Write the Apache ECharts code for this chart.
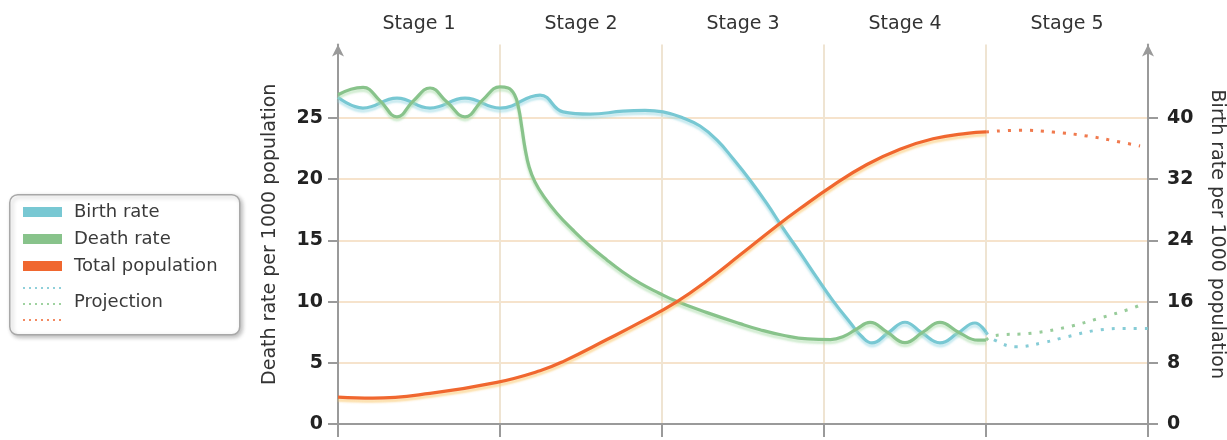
<!DOCTYPE html>
<html><head><meta charset="utf-8">
<script src="https://cdn.jsdelivr.net/npm/echarts@6/dist/echarts.min.js"></script>
<style>html,body{margin:0;padding:0;background:#fff}#c{width:1227px;height:440px}</style>
</head><body><div id="c"></div>
<script>
// ---- data (x in stage units: 0..5, stage k spans k-1..k) ----
const stages = ['Stage 1', 'Stage 2', 'Stage 3', 'Stage 4', 'Stage 5'];
const deathTicks = [0, 5, 10, 15, 20, 25];
const birthTicks = [0, 8, 16, 24, 32, 40];

// birth rate per 1000 (right axis)
const birthRate = [
  [0, 42.7], [0.154, 41.3], [0.364, 42.6], [0.568, 41.3], [0.784, 42.6], [1.0, 41.3],
  [1.247, 43.0], [1.389, 40.8], [1.556, 40.5], [1.759, 40.9], [1.895, 41.0], [2.006, 40.8],
  [2.13, 40.0], [2.235, 38.95], [2.34, 37.1], [2.438, 34.7], [2.543, 31.9], [2.648, 28.8],
  [2.747, 25.6], [2.852, 22.4], [2.957, 19.1], [3.056, 16.1], [3.16, 13.3], [3.235, 11.4],
  [3.296, 10.6], [3.395, 11.9], [3.5, 13.3], [3.605, 11.9],
  [3.716, 10.6], [3.827, 11.9], [3.932, 13.2], [4.0, 12.0]
];
// death rate per 1000 (left axis)
const deathRate = [
  [0, 26.9], [0.08, 27.35], [0.155, 27.5], [0.26, 26.4], [0.364, 25.1], [0.465, 26.4],
  [0.568, 27.45], [0.673, 26.3], [0.784, 25.1], [0.895, 26.5], [1.0, 27.55], [1.05, 27.45],
  [1.09, 26.9], [1.115, 25.8], [1.135, 24.2], [1.155, 22.5], [1.18, 21.0], [1.215, 19.8],
  [1.27, 18.6], [1.352, 17.2], [1.45, 15.85], [1.55, 14.6], [1.66, 13.4], [1.76, 12.4],
  [1.864, 11.5], [1.98, 10.7], [2.093, 10.0], [2.278, 9.1], [2.481, 8.2], [2.605, 7.7],
  [2.747, 7.25], [2.9, 6.95], [3.04, 6.9], [3.12, 7.15],
  [3.2, 7.75], [3.284, 8.3], [3.39, 7.5], [3.5, 6.65], [3.61, 7.5], [3.716, 8.3],
  [3.83, 7.5], [3.95, 6.85], [4.0, 6.85]
];
// total population (relative, left axis scale)
const totalPopulation = [
  [0, 2.2], [0.216, 2.12], [0.568, 2.5], [0.981, 3.4], [1.247, 4.35], [1.389, 5.1],
  [1.66, 6.9], [1.864, 8.3], [2.093, 10.0], [2.278, 11.7], [2.481, 13.8], [2.71, 16.2],
  [2.852, 17.6], [3.056, 19.5], [3.265, 21.2], [3.469, 22.45], [3.673, 23.3],
  [3.883, 23.75], [4.0, 23.86]
];
// projections (stage 5)
const birthProjection = [[4.0, 12.0], [4.05, 11.0], [4.19, 10.1], [4.346, 10.6], [4.5, 11.4], [4.704, 12.3], [4.889, 12.5], [5.0, 12.5]];
const deathProjection = [[4.0, 6.85], [4.043, 7.2], [4.29, 7.43], [4.5, 7.92], [4.704, 8.66], [4.907, 9.48], [4.98, 9.89]];
const populationProjection = [[4.0, 23.86], [4.21, 24.0], [4.414, 23.85], [4.623, 23.53], [4.827, 23.04], [4.951, 22.71]];

// ---- styling ----
const FONT = 'DejaVu Sans';
const C_BIRTH = '#78c8d3', C_DEATH = '#88c38b', C_POP = '#f0672f';
const leftMax = 31, rightMax = leftMax * 1.6;
const axisGrey = '#9a9a9a';

const chart = echarts.init(document.getElementById('c'), null, {renderer: 'canvas'});

function solid(name, data, color, shadow, yIdx) {
  return {
    name, type: 'line', data, yAxisIndex: yIdx, smooth: 0.45, showSymbol: false, silent: true,
    lineStyle: {color, width: 3.2, shadowColor: shadow, shadowBlur: 2, shadowOffsetY: 3},
    itemStyle: {color}, z: 3
  };
}
function dotted(name, data, color, yIdx) {
  return {
    name, type: 'line', data, yAxisIndex: yIdx, smooth: 0.45, showSymbol: false, silent: true,
    lineStyle: {color, width: 3, type: [3, 8], cap: 'butt'}, itemStyle: {color}, z: 3
  };
}

chart.setOption({
  animation: false,
  backgroundColor: '#fff',
  textStyle: {fontFamily: FONT},
  grid: {left: 338, right: 79, top: 44.56, bottom: 16, containLabel: false, outerBoundsMode: 'none'},
  xAxis: [
    {
      type: 'value', min: 0, max: 5, interval: 1, position: 'bottom',
      axisLine: {show: true, onZero: false, lineStyle: {color: axisGrey, width: 2}},
      axisTick: {show: true, length: 13, lineStyle: {color: axisGrey, width: 2}},
      axisLabel: {show: false},
      splitLine: {show: true, lineStyle: {color: '#efe4d2', width: 2}}
    },
    {
      type: 'category', position: 'top', data: stages, boundaryGap: true,
      axisLine: {show: false}, axisTick: {show: false}, splitLine: {show: false},
      axisLabel: {fontSize: 19, color: '#333', margin: 11, fontFamily: FONT}
    }
  ],
  yAxis: [
    {
      type: 'value', position: 'left', min: 0, max: leftMax, interval: 5,
      name: 'Death rate per 1000 population', nameLocation: 'middle', nameRotate: 90, nameGap: 58,
      nameTextStyle: {fontSize: 19, color: '#333', fontFamily: FONT},
      axisLine: {show: true, lineStyle: {color: axisGrey, width: 2}, symbol: ['none', 'arrow'], symbolSize: [9, 12]},
      axisTick: {show: true, length: 10, customValues: deathTicks, lineStyle: {color: axisGrey, width: 2}},
      axisLabel: {customValues: deathTicks, fontSize: 19, fontWeight: 'bold', color: '#222', margin: 15, fontFamily: FONT},
      splitLine: {show: false}
    },
    {
      type: 'value', position: 'right', min: 0, max: rightMax, interval: 8,
      name: 'Birth rate per 1000 population', nameLocation: 'middle', nameRotate: -90, nameGap: 59,
      nameTextStyle: {fontSize: 19, color: '#333', fontFamily: FONT},
      axisLine: {show: true, lineStyle: {color: axisGrey, width: 2}, symbol: ['none', 'arrow'], symbolSize: [9, 12]},
      axisTick: {show: true, length: 10, customValues: birthTicks, lineStyle: {color: axisGrey, width: 2}},
      axisLabel: {customValues: birthTicks, fontSize: 19, fontWeight: 'bold', color: '#222', margin: 19, fontFamily: FONT},
      splitLine: {show: false}
    },
    {
      type: 'value', position: 'left', min: 0, max: leftMax, interval: 5,
      axisLine: {show: false}, axisTick: {show: false}, axisLabel: {show: false},
      splitLine: {
        show: true, showMinLine: false, showMaxLine: false,
        lineStyle: {color: ['#f6e3cc', '#f6e3cc', '#f6e3cc', '#f6e3cc', '#f6e3cc', 'rgba(0,0,0,0)'], width: 2}
      }
    }
  ],
  legend: {
    data: ['Birth rate', 'Death rate', 'Total population'],
    orient: 'vertical', left: 23, top: 203, padding: 0,
    itemWidth: 39, itemHeight: 10, itemGap: 9, icon: 'rect', selectedMode: false,
    textStyle: {fontSize: 18, color: '#3a3a3a', fontFamily: FONT, padding: [0, 0, 0, 7]}
  },
  graphic: [
    {type: 'rect', left: 9, top: 194, z: -1,
     shape: {width: 230, height: 140, r: 8},
     style: {fill: '#fff', stroke: '#a8a8a8', lineWidth: 1.5, shadowColor: 'rgba(0,0,0,0.25)', shadowBlur: 4, shadowOffsetX: 2, shadowOffsetY: 2}},
    {type: 'line', shape: {x1: 23, y1: 288, x2: 62, y2: 288}, style: {stroke: '#8fd0da', lineWidth: 2, lineDash: [2, 4]}},
    {type: 'line', shape: {x1: 23, y1: 304, x2: 62, y2: 304}, style: {stroke: '#9fd2a0', lineWidth: 2, lineDash: [2, 4]}},
    {type: 'line', shape: {x1: 23, y1: 320, x2: 62, y2: 320}, style: {stroke: '#f38a62', lineWidth: 2, lineDash: [2, 4]}},
    {type: 'text', left: 74, top: 293, style: {text: 'Projection', fontSize: 18, fill: '#3a3a3a', fontFamily: FONT}}
  ],
  series: [
    solid('Birth rate', birthRate, C_BIRTH, 'rgba(150,215,225,0.55)', 1),
    solid('Death rate', deathRate, C_DEATH, 'rgba(170,220,170,0.55)', 0),
    solid('Total population', totalPopulation, C_POP, 'rgba(250,200,110,0.6)', 0),
    dotted('Birth projection', birthProjection, '#86ccd6', 1),
    dotted('Death projection', deathProjection, '#98cc9a', 0),
    dotted('Population projection', populationProjection, '#f07a4e', 0)
  ]
});
</script>
</body></html>
